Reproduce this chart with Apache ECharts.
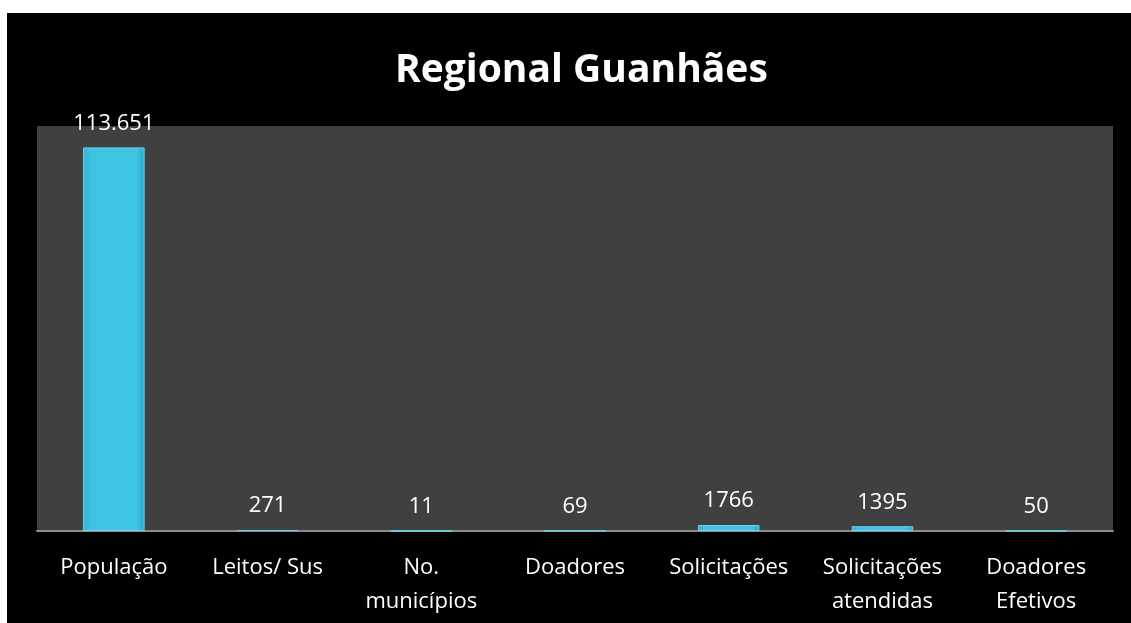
<!DOCTYPE html>
<html>
<head>
<meta charset="utf-8">
<title>Regional Guanhães</title>
<script src="https://cdn.jsdelivr.net/npm/echarts@6/dist/echarts.min.js"></script>
<style>
  html, body { margin: 0; padding: 0; background: #fff; }
  #chart { position: absolute; left: 7px; top: 13px; width: 1124px; height: 610px; }
</style>
</head>
<body>
<div id="chart"></div>
<script>
// dados
var categorias = ['População', 'Leitos/ Sus', 'No.\nmunicípios', 'Doadores', 'Solicitações', 'Solicitações\natendidas', 'Doadores\nEfetivos'];
var valores = [113651, 271, 11, 69, 1766, 1395, 50];
var rotulos = ['113.651', '271', '11', '69', '1766', '1395', '50'];

var fonte = '"Open Sans", "Noto Sans", sans-serif';

var chart = echarts.init(document.getElementById('chart'), null, { renderer: 'canvas' });
chart.setOption({
    backgroundColor: '#000',
    animation: false,
    title: {
        text: 'Regional Guanhães',
        left: 383,
        top: 33,
        textStyle: { color: '#fff', fontSize: 39, fontWeight: 'bold', fontFamily: fonte }
    },
    grid: {
        left: 30, right: 18, top: 113, bottom: 92,
        show: true, backgroundColor: '#404040', borderWidth: 0
    },
    xAxis: {
        type: 'category',
        data: categorias,
        axisTick: { show: false },
        axisLine: { lineStyle: { color: '#8c8c8c', width: 2 } },
        axisLabel: {
            color: '#fff', fontSize: 22, fontFamily: fonte,
            margin: 20, lineHeight: 34, interval: 0
        }
    },
    yAxis: {
        type: 'value',
        min: 0, max: 120000,
        show: false,
        splitLine: { show: false }
    },
    series: [{
        type: 'bar',
        barWidth: '40%',
        data: valores,
        label: {
            show: true,
            position: 'top',
            distance: 13,
            color: '#fff',
            fontSize: 22,
            fontFamily: fonte,
            formatter: function (p) { return rotulos[p.dataIndex]; }
        },
        itemStyle: {
            borderColor: '#6ad8f2',
            borderWidth: 1,
            color: new echarts.graphic.LinearGradient(0, 0, 1, 0, [
                { offset: 0, color: '#2fb0d0' },
                { offset: 0.12, color: '#3fc3e3' },
                { offset: 0.88, color: '#3fc3e3' },
                { offset: 1, color: '#2aa5c4' }
            ])
        }
    }]
});
</script>
</body>
</html>
